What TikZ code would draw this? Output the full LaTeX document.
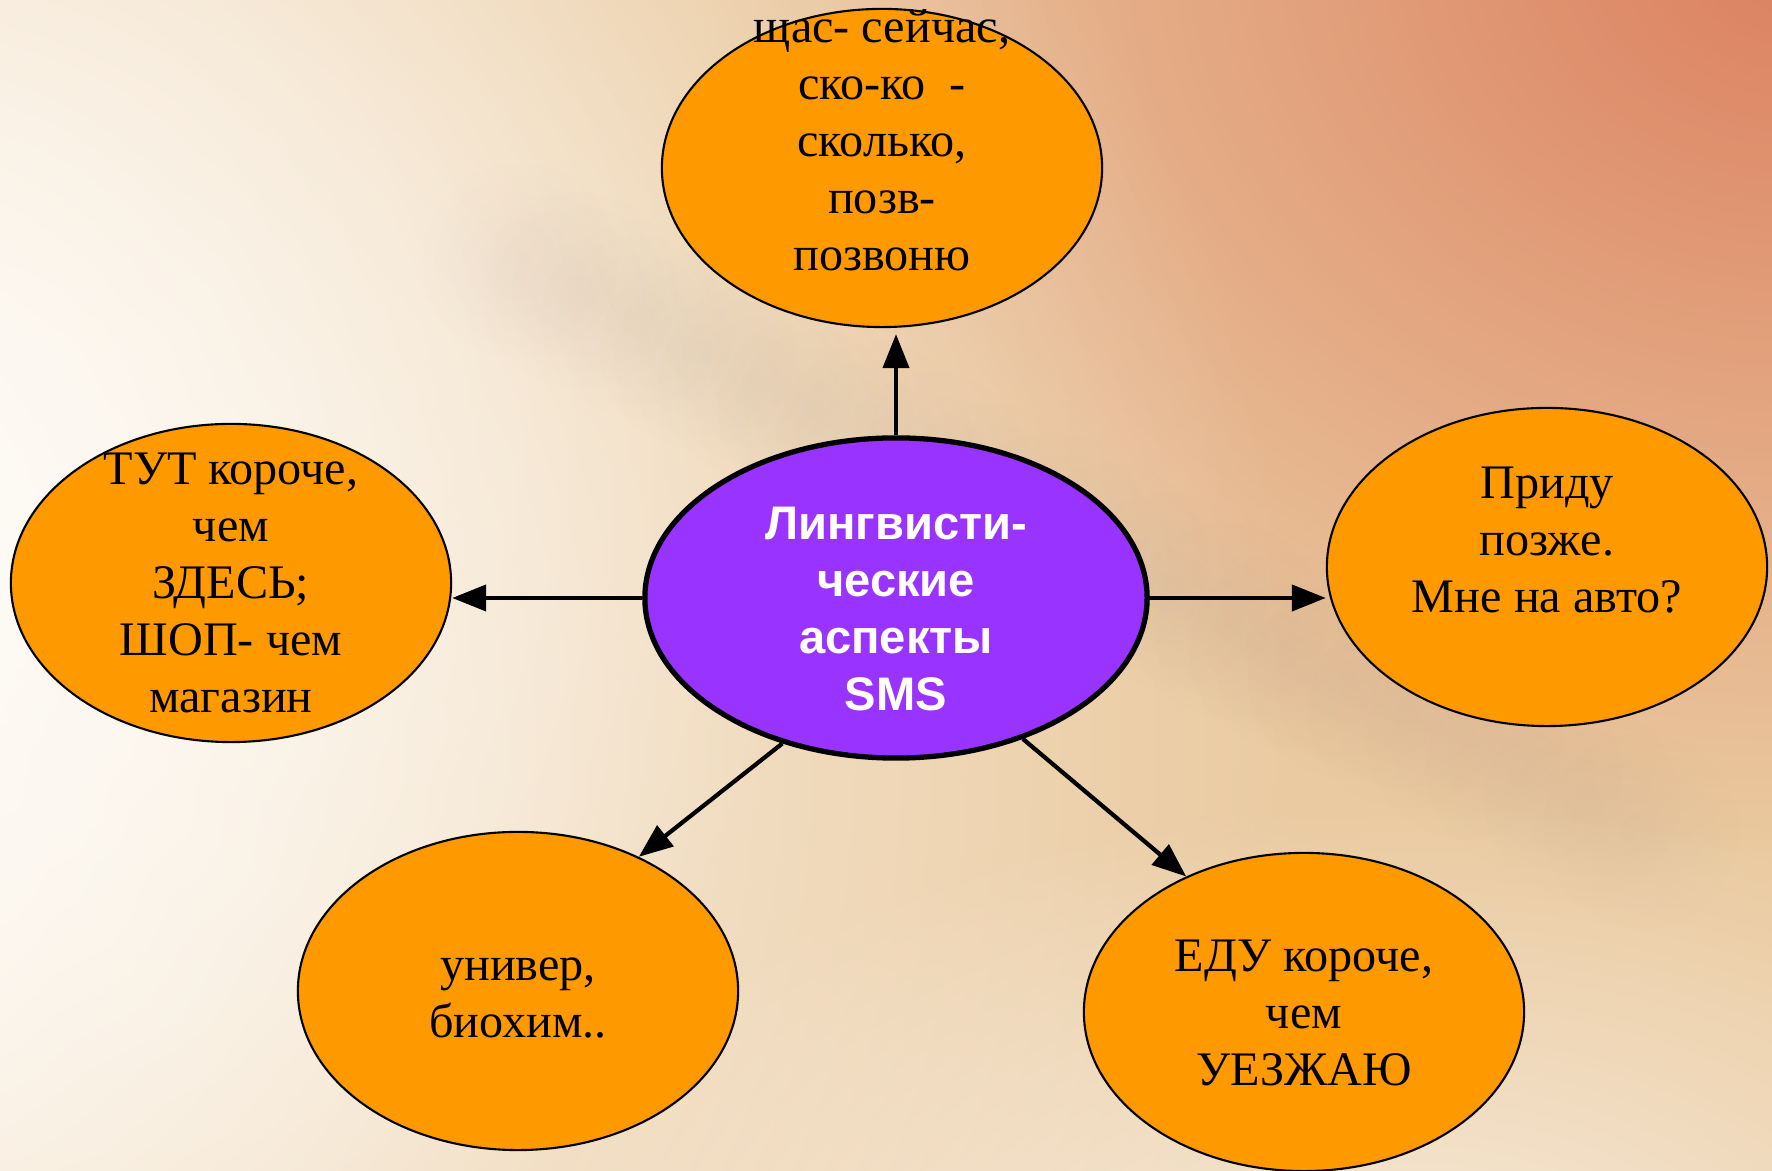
\documentclass[tikz,border=0pt]{standalone}
\usepackage{fontspec}
\setmainfont{Liberation Serif}
\setsansfont{Liberation Sans}
\usepackage{tikz}
\usetikzlibrary{arrows.meta}
\usetikzlibrary{shapes.geometric}
\usetikzlibrary{fadings}
\usetikzlibrary{calc}

\definecolor{leaforange}{RGB}{255,153,0}
\definecolor{hubpurple}{RGB}{153,51,255}
\definecolor{bgwhite}{RGB}{254,251,246}
\definecolor{bgpeach}{RGB}{234,202,160}
\definecolor{bgsalmon}{RGB}{220,128,96}
\definecolor{bgstreak}{RGB}{175,155,145}

\tikzfading[name=softspot, inner color=transparent!0, outer color=transparent!100]

\tikzset{
	leaf/.style={ellipse, draw=black, line width=0.6pt, fill=leaforange,
		minimum width=4.4cm, minimum height=3.18cm, inner sep=0pt},
	hub/.style={ellipse, draw=black, line width=1.5pt, fill=hubpurple,
		minimum width=5.02cm, minimum height=3.2cm, inner sep=0pt},
	leaftext/.style={align=center, inner sep=0pt,
		font=\fontsize{13.7pt}{16.2pt}\selectfont},
	hubtext/.style={align=center, inner sep=0pt, text=white,
		font=\sffamily\bfseries\fontsize{13.4pt}{16.2pt}\selectfont}
}

\begin{document}
\begin{tikzpicture}[x=0.01cm, y=-0.01cm]
	\useasboundingbox (0,0) rectangle (1772,1171);
	% background
	\begin{scope}
		\clip (0,0) rectangle (1772,1171);
		\fill[bgpeach] (0,0) rectangle (1772,1171);
		\fill[bgsalmon, path fading=softspot] (1800,-50) ellipse (1100 and 900);
		\fill[bgwhite, path fading=softspot] (-200,750) ellipse (1500 and 1500);
		\fill[bgwhite, path fading=softspot] (-100,500) ellipse (900 and 1000);
		\fill[white, opacity=0.6, path fading=softspot] (1400,1300) ellipse (900 and 500);
		\foreach \t in {0,0.05,...,1}
			\fill[bgstreak, opacity=0.09, path fading=softspot]
				($(520,260)!\t!(1700,860)$) circle (100);
	\end{scope}

	\begin{scope}
		\node[hub]  (sms)   at (896,598)  {};
		\node[leaf] (now)   at (882,168)  {};
		\node[leaf] (here)  at (231,583)  {};
		\node[leaf] (later) at (1547,567) {};
		\node[leaf] (short) at (518,991)  {};
		\node[leaf] (going) at (1304,1012) {};
	\end{scope}

	\begin{scope}
		\node[hubtext]  at (896,609)  {Лингвисти-\\ческие\\аспекты\\SMS};
		\node[leaftext] at (882,140)  {щас- сейчас,\\ско-ко\ \ -\\сколько,\\позв-\\позвоню};
		\node[leaftext] at (231,583)  {ТУТ короче,\\чем\\ЗДЕСЬ;\\ШОП- чем\\магазин};
		\node[leaftext] at (1547,540) {Приду\\позже.\\Мне на авто?};
		\node[leaftext] at (518,998)  {универ,\\биохим..};
		\node[leaftext] at (1304,1013) {ЕДУ короче,\\чем\\УЕЗЖАЮ};
	\end{scope}

	\begin{scope}[>={Triangle[length=3.4mm, width=2.6mm]},
	              every edge/.style={draw=black, line width=1.2pt, ->}]
		\path (sms.north) edge[shorten >=0.6mm] (sms.north |- now.south);
		\path (sms.west) edge (sms.west -| here.east);
		\path (sms.east) edge (sms.east -| later.west);
		\path (sms.232) edge (short.48);
		\path (sms.312) edge (going.131);
	\end{scope}
\end{tikzpicture}
\end{document}
